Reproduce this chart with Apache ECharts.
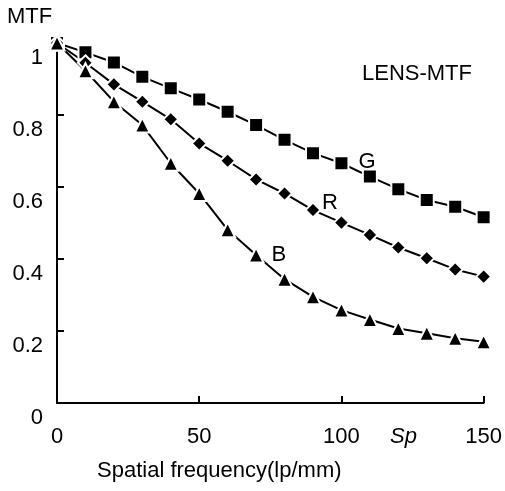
<!DOCTYPE html>
<html>
<head>
  <meta charset="utf-8">
  <title>LENS-MTF</title>
  <style>
    html, body { margin: 0; padding: 0; background: #fff; }
    #container { width: 505px; height: 491px; }
  </style>
</head>
<body>
  <div id="container"></div>
  <script src="https://cdn.jsdelivr.net/npm/echarts@6/dist/echarts.min.js"></script>
  <script>
    // spatial frequency (lp/mm)
    var freq = [0, 10, 20, 30, 40, 50, 60, 70, 80, 90, 100, 110, 120, 130, 140, 150];
    // MTF
    var mtfG = [1.0, 0.974, 0.946, 0.906, 0.874, 0.843, 0.809, 0.772, 0.731, 0.694, 0.666, 0.629, 0.594, 0.564, 0.545, 0.516];
    var mtfR = [1.0, 0.945, 0.885, 0.837, 0.788, 0.721, 0.673, 0.621, 0.582, 0.536, 0.501, 0.467, 0.432, 0.402, 0.371, 0.351];
    var mtfB = [1.0, 0.923, 0.837, 0.772, 0.666, 0.582, 0.481, 0.411, 0.344, 0.295, 0.258, 0.232, 0.207, 0.194, 0.180, 0.170];
    var curveLabels = [
      { name: 'G', coord: [109, 0.67] },
      { name: 'R', coord: [96, 0.555] },
      { name: 'B', coord: [78, 0.41] }
    ];

    var font = 'Liberation Sans, Arial, sans-serif';

    function pairs(ys) {
      var out = [];
      for (var i = 0; i < freq.length; i++) out.push([freq[i], ys[i]]);
      return out;
    }

    function line(name, ys, symbol, size) {
      return {
        name: name,
        type: 'line',
        data: pairs(ys),
        symbol: symbol,
        symbolSize: size,
        showAllSymbol: true,
        lineStyle: { color: '#000', width: 2 },
        itemStyle: { color: '#000', borderColor: '#fff', borderWidth: 2 },
        z: 3,
        animation: false
      };
    }

    var series = [
      line('G', mtfG, 'rect', 14),
      line('R', mtfR, 'diamond', 15),
      line('B', mtfB, 'triangle', 15)
    ];
    // curve letters
    series.push({
      type: 'scatter',
      symbolSize: 0,
      data: curveLabels.map(function (d) { return { value: d.coord, name: d.name }; }),
      itemStyle: { opacity: 1 },
      label: {
        show: true,
        position: 'inside',
        formatter: '{b}',
        color: '#000',
        opacity: 1,
        fontSize: 22,
        fontFamily: font
      },
      silent: true,
      animation: false
    });

    var dom = document.getElementById('container');
    var myChart = echarts.init(dom);
    var option = {
      backgroundColor: '#fff',
      animation: false,
      grid: { left: 57, right: 17, top: 43, bottom: 88 },
      xAxis: {
        type: 'value',
        min: 0,
        max: 150,
        interval: 50,
        axisLine: { lineStyle: { color: '#000', width: 2 } },
        axisTick: { inside: true, length: 7, lineStyle: { color: '#000', width: 2 } },
        axisLabel: { color: '#000', fontSize: 22, fontFamily: font, margin: 23 },
        splitLine: { show: false }
      },
      yAxis: {
        type: 'value',
        min: 0,
        max: 1,
        interval: 0.2,
        axisLine: { show: true, lineStyle: { color: '#000', width: 2 } },
        axisTick: { show: true, inside: true, length: 7, lineStyle: { color: '#000', width: 2 } },
        axisLabel: {
          color: '#000', fontSize: 22, fontFamily: font, margin: 14,
          verticalAlign: 'top', lineHeight: 30
        },
        splitLine: { show: false }
      },
      graphic: [
        { type: 'text', left: 7, top: 6, style: { text: 'MTF', fontSize: 22, fontFamily: font, fill: '#000' } },
        { type: 'text', left: 362, top: 63, style: { text: 'LENS-MTF', fontSize: 22, fontFamily: font, fill: '#000' } },
        { type: 'text', left: 390, top: 426, style: { text: 'Sp', fontSize: 22, fontStyle: 'italic', fontFamily: font, fill: '#000' } },
        { type: 'text', left: 97, top: 460, style: { text: 'Spatial frequency(lp/mm)', fontSize: 22, fontFamily: font, fill: '#000' } }
      ],
      series: series
    };
    if (option && typeof option === 'object') {
      myChart.setOption(option, true);
    }
  </script>
</body>
</html>
